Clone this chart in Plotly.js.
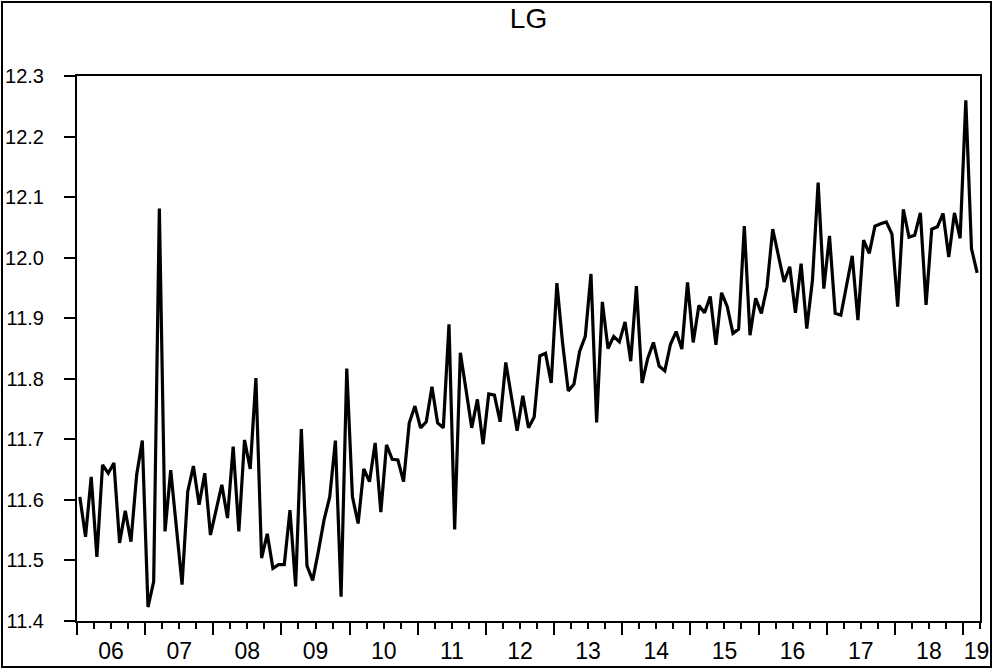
<!DOCTYPE html>
<html>
<head>
<meta charset="utf-8">
<script src="https://cdn.plot.ly/plotly-3.0.1.min.js"></script>
<style>
  html, body { margin: 0; padding: 0; background: #ffffff; }
  #chart { width: 993px; height: 671px; }
</style>
</head>
<body>
<div id="chart"></div>
<script>
// Monthly values of LG, Jan 2006 - Mar 2019
const yearLabels = ['06','07','08','09','10','11','12','13','14','15','16','17','18','19'];
const v2006 = [11.605, 11.539, 11.638, 11.506, 11.658, 11.644, 11.661, 11.529, 11.582, 11.531, 11.641, 11.698];
const v2007 = [11.423, 11.465, 12.081, 11.548, 11.649, 11.555, 11.460, 11.614, 11.656, 11.592, 11.644, 11.542];
const v2008 = [11.585, 11.625, 11.570, 11.688, 11.548, 11.699, 11.651, 11.801, 11.504, 11.544, 11.487, 11.493];
const v2009 = [11.493, 11.583, 11.457, 11.717, 11.491, 11.467, 11.515, 11.567, 11.605, 11.698, 11.440, 11.817];
const v2010 = [11.605, 11.561, 11.651, 11.630, 11.694, 11.580, 11.691, 11.667, 11.666, 11.630, 11.727, 11.755];
const v2011 = [11.719, 11.729, 11.787, 11.727, 11.719, 11.890, 11.551, 11.843, 11.782, 11.719, 11.766, 11.692];
const v2012 = [11.775, 11.773, 11.729, 11.827, 11.770, 11.714, 11.772, 11.719, 11.737, 11.838, 11.842, 11.793];
const v2013 = [11.958, 11.859, 11.780, 11.791, 11.845, 11.870, 11.973, 11.728, 11.927, 11.850, 11.870, 11.861];
const v2014 = [11.894, 11.829, 11.953, 11.793, 11.834, 11.860, 11.821, 11.813, 11.857, 11.878, 11.849, 11.959];
const v2015 = [11.860, 11.921, 11.909, 11.936, 11.856, 11.942, 11.919, 11.875, 11.882, 12.052, 11.872, 11.933];
const v2016 = [11.908, 11.952, 12.047, 12.003, 11.960, 11.985, 11.909, 11.990, 11.883, 11.963, 12.124, 11.949];
const v2017 = [12.036, 11.908, 11.905, 11.954, 12.003, 11.897, 12.029, 12.007, 12.052, 12.056, 12.059, 12.039];
const v2018 = [11.919, 12.080, 12.034, 12.037, 12.074, 11.922, 12.047, 12.051, 12.073, 12.001, 12.074, 12.032];
const v2019 = [12.260, 12.015, 11.975];
const yTickValues = [11.4, 11.5, 11.6, 11.7, 11.8, 11.9, 12.0, 12.1, 12.2, 12.3];

const values = [].concat(v2006, v2007, v2008, v2009, v2010, v2011, v2012,
                         v2013, v2014, v2015, v2016, v2017, v2018, v2019);
const monthIndex = values.map((_, i) => i);
const nObs = values.length;
const xRange = [-0.5, nObs - 0.5];

// year boundaries (long ticks) and label positions (middle of each full year;
// the last, partial year label sits just left of the right edge)
const yearStarts = yearLabels.map((_, k) => -0.5 + 12 * k);
const labelPos = yearStarts.map(s => {
  if (s + 12 <= xRange[1]) return s + 6;
  return xRange[1] - 0.6;
});

const FONT = 'Liberation Sans, Arial, sans-serif';

const traces = [
  {
    x: monthIndex, y: values, type: 'scatter', mode: 'lines',
    line: { color: '#000000', width: 3.2 },
    hoverinfo: 'x+y', showlegend: false
  },
  {
    x: [xRange[0]], y: [null], xaxis: 'x2', yaxis: 'y', type: 'scatter', mode: 'lines',
    hoverinfo: 'skip', showlegend: false
  }
];

const W = 993, H = 671, ML = 77, MR = 13, MT = 76, MB = 50;
const pw = W - ML - MR, ph = H - MT - MB;
const px = v => (v - ML) / pw;
const py = v => (H - MB - v) / ph;

const layout = {
  width: W, height: H,
  margin: { l: ML, r: MR, t: MT, b: MB, pad: 0 },
  paper_bgcolor: '#ffffff', plot_bgcolor: '#ffffff',
  font: { family: FONT, color: '#000000' },
  title: {
    text: 'LG', font: { family: FONT, size: 28, color: '#000000' },
    x: 0.5, xref: 'paper', xanchor: 'center',
    y: 1 - 18.5 / H, yref: 'container', yanchor: 'middle'
  },
  xaxis: {
    range: xRange, showgrid: false, zeroline: false,
    showline: true, linecolor: '#000000', linewidth: 2, mirror: true,
    tickmode: 'array', tickvals: yearStarts, ticks: 'outside', ticklen: 12,
    tickwidth: 1.5, tickcolor: '#000000', showticklabels: false,
    minor: { tick0: -0.5, dtick: 3, ticks: 'outside', ticklen: 6, tickwidth: 1.5, tickcolor: '#000000', showgrid: false }
  },
  xaxis2: {
    overlaying: 'x', anchor: 'y', side: 'bottom', range: xRange,
    showgrid: false, zeroline: false, showline: false,
    tickmode: 'array', tickvals: labelPos, ticktext: yearLabels,
    ticks: '', ticklabelstandoff: 14,
    tickfont: { family: FONT, size: 23, color: '#000000' }
  },
  yaxis: {
    range: [11.4, 12.3], showgrid: false, zeroline: false,
    showline: true, linecolor: '#000000', linewidth: 2, mirror: true,
    tickmode: 'array', tickvals: yTickValues,
    ticktext: yTickValues.map(v => v.toFixed(1)),
    ticks: 'outside', ticklen: 11, tickwidth: 1.5, tickcolor: '#000000',
    ticklabelstandoff: 16,
    tickfont: { family: FONT, size: 20, color: '#000000' }
  },
  shapes: [
    {
      type: 'rect', xref: 'paper', yref: 'paper',
      x0: px(2), x1: px(991), y0: py(667), y1: py(2),
      line: { color: '#000000', width: 2 }, fillcolor: 'rgba(0,0,0,0)', layer: 'above'
    }
  ]
};

Plotly.newPlot('chart', traces, layout, { displayModeBar: false, responsive: false });
</script>
</body>
</html>
